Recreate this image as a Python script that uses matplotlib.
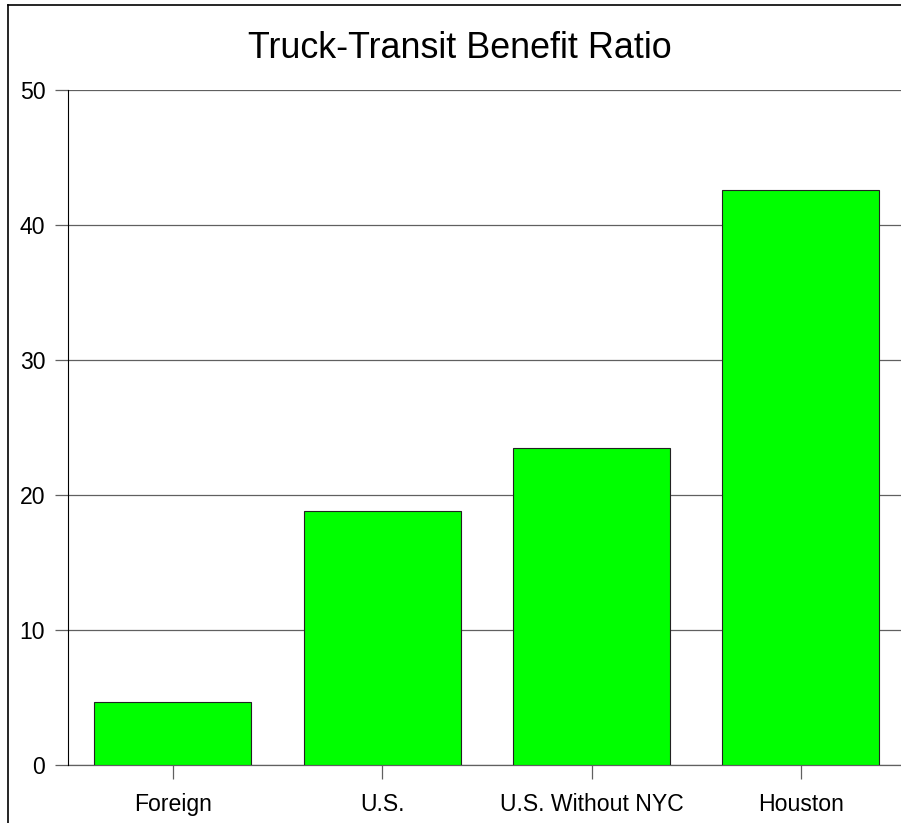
import matplotlib
matplotlib.use("Agg")
import matplotlib.pyplot as plt
from matplotlib.lines import Line2D

categories = ["Foreign", "U.S.", "U.S. Without NYC", "Houston"]
values = [4.7, 18.8, 23.5, 42.6]
yticks = [0, 10, 20, 30, 40, 50]
title = "Truck-Transit Benefit Ratio"

W, H = 901, 823
plt.rcParams['font.family'] = ['Liberation Sans', 'DejaVu Sans']
fig = plt.figure(figsize=(W / 100, H / 100), dpi=100)
fig.patch.set_facecolor('white')

ax = fig.add_axes([68 / W, 58 / H, 833 / W, 675 / H])
x = list(range(len(categories)))
ax.bar(x, values, width=0.75, color='#00FF00', edgecolor='#222222', linewidth=0.8, zorder=3)
ax.set_xlim(-0.5, 3.478)
ax.set_ylim(0, 50)
ax.set_yticks(yticks)
ax.set_yticklabels([str(t) for t in yticks])
ax.set_xticks(x)
ax.set_xticklabels(categories)
ax.yaxis.grid(True, color='#606060', linewidth=0.9, zorder=1)
ax.axhline(0, color='#606060', linewidth=0.9, zorder=2, clip_on=False)
for s in ['top', 'right', 'bottom']:
    ax.spines[s].set_visible(False)
ax.spines['left'].set_color('black')
ax.spines['left'].set_linewidth(0.8)
ax.spines['left'].set_zorder(4)
ax.tick_params(axis='y', length=9.4, width=0.9, color='#606060', pad=7, labelsize=16.6)
ax.tick_params(axis='x', length=10, width=0.9, color='#606060', pad=10.5, labelsize=16.6)

fig.text(460 / W, 1 - 48 / H, title, ha='center', va='center', fontsize=25.8)

fig.add_artist(Line2D([8 / W, 8 / W], [0, 1 - 5 / H], transform=fig.transFigure, color='black', linewidth=1.2))
fig.add_artist(Line2D([8 / W, 1.01], [1 - 5 / H, 1 - 5 / H], transform=fig.transFigure, color='black', linewidth=1.2))

fig.savefig("out.png", dpi=100, facecolor='white')
